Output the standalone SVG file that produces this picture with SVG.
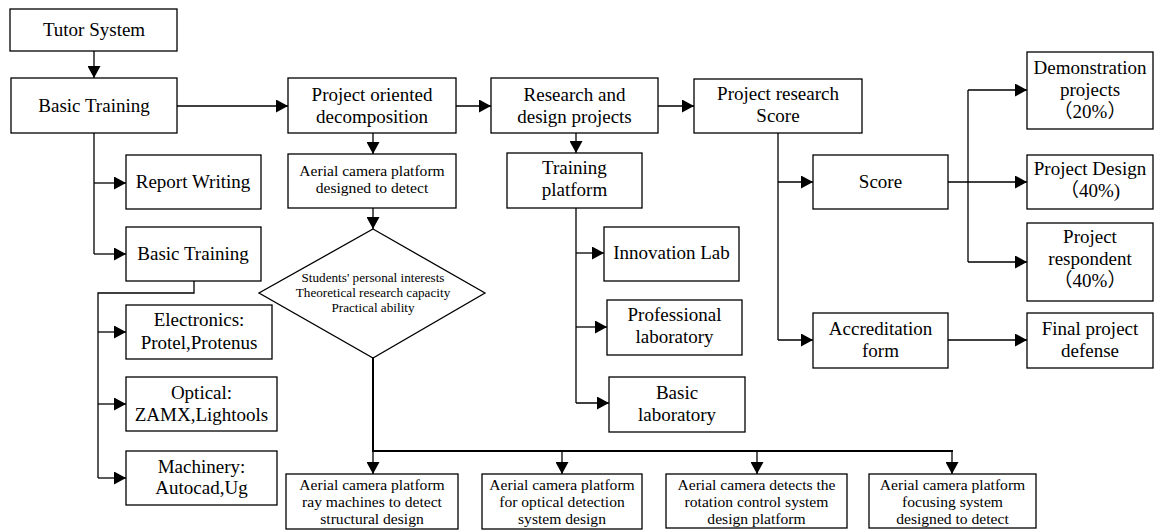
<svg xmlns="http://www.w3.org/2000/svg" width="1155" height="530" viewBox="0 0 1155 530">
<style>
rect,polygon{fill:#fff;stroke:#000;stroke-width:1.3}
.c path,.c line,.c polyline{fill:none;stroke:#000;stroke-width:1.3}
text{font-size:19px;text-anchor:middle;fill:#000}
.s{font-size:15.6px}
.d{font-size:13.2px}
</style>
<defs>
<marker id="a" markerUnits="userSpaceOnUse" markerWidth="13" markerHeight="13" refX="12" refY="6.5" orient="auto"><path d="M0,0 L12,6.5 L0,13 z" fill="#000"/></marker>
</defs>
<g class="c">
<line x1="94" y1="51" x2="94" y2="78" marker-end="url(#a)"/>
<line x1="177" y1="106" x2="288" y2="106" marker-end="url(#a)"/>
<line x1="94" y1="133" x2="94" y2="254"/>
<line x1="94" y1="183" x2="126" y2="183" marker-end="url(#a)"/>
<line x1="94" y1="254" x2="126" y2="254" marker-end="url(#a)"/>
<polyline points="194,281 194,293 98,293 98,478"/>
<line x1="98" y1="332" x2="126" y2="332" marker-end="url(#a)"/>
<line x1="98" y1="404" x2="126" y2="404" marker-end="url(#a)"/>
<line x1="98" y1="478" x2="126" y2="478" marker-end="url(#a)"/>
<line x1="373" y1="133" x2="373" y2="154" marker-end="url(#a)"/>
<line x1="373" y1="208" x2="373" y2="229" marker-end="url(#a)"/>
<line x1="373" y1="358" x2="373" y2="451" style="stroke-width:2"/>
<line x1="372" y1="451" x2="953" y2="451" style="stroke-width:2"/>
<line x1="373" y1="451" x2="373" y2="474" marker-end="url(#a)"/>
<line x1="562" y1="451" x2="562" y2="474" marker-end="url(#a)"/>
<line x1="757" y1="451" x2="757" y2="474" marker-end="url(#a)"/>
<line x1="952" y1="451" x2="952" y2="474" marker-end="url(#a)"/>
<line x1="456" y1="106" x2="491" y2="106" marker-end="url(#a)"/>
<line x1="658" y1="106" x2="694" y2="106" marker-end="url(#a)"/>
<line x1="576" y1="133" x2="576" y2="153" marker-end="url(#a)"/>
<line x1="576" y1="208" x2="576" y2="403"/>
<line x1="576" y1="253" x2="604" y2="253" marker-end="url(#a)"/>
<line x1="576" y1="327" x2="607" y2="327" marker-end="url(#a)"/>
<line x1="576" y1="403" x2="609" y2="403" marker-end="url(#a)"/>
<line x1="778" y1="133" x2="778" y2="340"/>
<line x1="778" y1="182" x2="813" y2="182" marker-end="url(#a)"/>
<line x1="778" y1="340" x2="813" y2="340" marker-end="url(#a)"/>
<line x1="948" y1="182" x2="1027" y2="182" marker-end="url(#a)"/>
<line x1="968" y1="90" x2="968" y2="262"/>
<line x1="968" y1="90" x2="1027" y2="90" marker-end="url(#a)"/>
<line x1="968" y1="262" x2="1027" y2="262" marker-end="url(#a)"/>
<line x1="948" y1="340" x2="1027" y2="340" marker-end="url(#a)"/>
</g>
<g font-family="Liberation Serif, DejaVu Serif, Noto Sans CJK SC, serif">
<g id="tutor"><rect x="10" y="9" width="167" height="42"/><text x="94" y="36">Tutor System</text></g>
<g id="basic"><rect x="11" y="78" width="166" height="55"/><text x="94" y="112">Basic Training</text></g>
<g id="report"><rect x="126" y="155" width="135" height="54"/><text x="193" y="188">Report Writing</text></g>
<g id="basic2"><rect x="126" y="227" width="135" height="54"/><text x="193" y="260">Basic Training</text></g>
<g id="electronics"><rect x="126" y="305" width="146" height="54"/><text x="199" y="326">Electronics:</text><text x="199" y="349">Protel,Protenus</text></g>
<g id="optical"><rect x="126" y="377" width="151" height="54"/><text x="201.5" y="399">Optical:</text><text x="201.5" y="421">ZAMX,Lightools</text></g>
<g id="machinery"><rect x="126" y="451" width="151" height="54"/><text x="201.5" y="473">Machinery:</text><text x="201.5" y="494">Autocad,Ug</text></g>
<g id="projoriented"><rect x="288" y="78" width="168" height="55"/><text x="372" y="101">Project oriented</text><text x="372" y="123">decomposition</text></g>
<g id="aerial"><rect x="288" y="154" width="168" height="54"/><text class="s" x="372" y="176">Aerial camera platform</text><text class="s" x="372" y="193">designed to detect</text></g>
<g id="decision"><polygon points="373,229 485,293 373,358 259,293"/><text class="d" x="373" y="282">Students' personal interests</text><text class="d" x="373" y="297">Theoretical research capacity</text><text class="d" x="373" y="312">Practical ability</text></g>
<g id="research"><rect x="491" y="78" width="167" height="55"/><text x="574.5" y="101">Research and</text><text x="574.5" y="123">design projects</text></g>
<g id="training"><rect x="507" y="153" width="135" height="55"/><text x="574.5" y="174">Training</text><text x="574.5" y="196">platform</text></g>
<g id="innovation"><rect x="604" y="227" width="135" height="54"/><text x="671.5" y="259">Innovation Lab</text></g>
<g id="professional"><rect x="607" y="300" width="135" height="55"/><text x="674.5" y="321">Professional</text><text x="674.5" y="343">laboratory</text></g>
<g id="basiclab"><rect x="609" y="377" width="136" height="55"/><text x="677" y="399">Basic</text><text x="677" y="421">laboratory</text></g>
<g id="prscore"><rect x="694" y="79" width="168" height="54"/><text x="778" y="100">Project research</text><text x="778" y="122">Score</text></g>
<g id="score"><rect x="813" y="155" width="135" height="54"/><text x="880.5" y="188">Score</text></g>
<g id="accred"><rect x="813" y="313" width="135" height="55"/><text x="880.5" y="335">Accreditation</text><text x="880.5" y="357">form</text></g>
<g id="final"><rect x="1027" y="313" width="126" height="55"/><text x="1090" y="335">Final project</text><text x="1090" y="357">defense</text></g>
<g id="demo"><rect x="1027" y="52" width="126" height="77"/><text x="1090" y="74">Demonstration</text><text x="1090" y="96">projects</text><text x="1090" y="118">（20%）</text></g>
<g id="pdesign"><rect x="1027" y="155" width="126" height="54"/><text x="1090" y="175">Project Design</text><text x="1090" y="197">（40%)</text></g>
<g id="respondent"><rect x="1027" y="223" width="126" height="78"/><text x="1090" y="243">Project</text><text x="1090" y="265">respondent</text><text x="1090" y="287">（40%）</text></g>
<g id="b1"><rect x="286" y="474" width="172" height="55"/><text class="s" x="372" y="490">Aerial camera platform</text><text class="s" x="372" y="507">ray machines to detect</text><text class="s" x="372" y="524">structural design</text></g>
<g id="b2"><rect x="482" y="474" width="160" height="55"/><text class="s" x="562" y="490">Aerial camera platform</text><text class="s" x="562" y="507">for optical detection</text><text class="s" x="562" y="524">system design</text></g>
<g id="b3"><rect x="666" y="474" width="181" height="54"/><text class="s" x="756.5" y="490">Aerial camera detects the</text><text class="s" x="756.5" y="507">rotation control system</text><text class="s" x="756.5" y="524">design platform</text></g>
<g id="b4"><rect x="869" y="474" width="167" height="54"/><text class="s" x="952.5" y="490">Aerial camera platform</text><text class="s" x="952.5" y="507">focusing system</text><text class="s" x="952.5" y="524">designed to detect</text></g>
</g>
</svg>
